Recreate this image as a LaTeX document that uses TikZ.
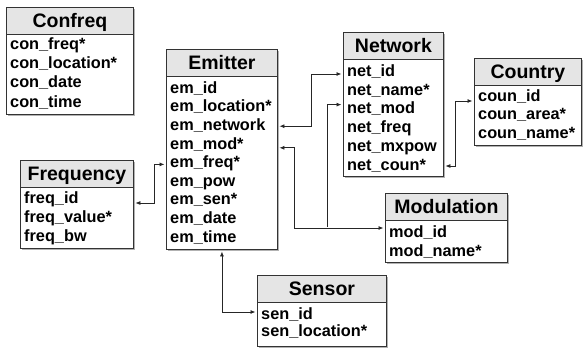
\documentclass[tikz,border=0pt]{standalone}
\usepackage{fontspec}
\setmainfont{Liberation Sans}
\usetikzlibrary{arrows.meta,calc,shadows}
\tikzset{
  tbl/.style={draw=black!80, line width=0.9pt, fill=white, inner sep=0pt,
    drop shadow={shadow xshift=1.2pt, shadow yshift=-1.2pt, fill=black!60, opacity=0.5}},
  hdr/.style={draw=black!80, line width=0.9pt, fill=black!10, inner sep=0pt,
    text height=14pt, text depth=0pt, font=\fontsize{19.5}{20}\selectfont\bfseries},
  rowtxt/.style={anchor=west, inner sep=0pt, text height=11.5pt, text depth=3pt,
    font=\fontsize{16.3}{18}\selectfont\bfseries},
  tip/.tip={Latex[length=5pt,width=4pt]},
  link/.style={draw=black!85, line width=0.8pt, shorten <=1.5pt, shorten >=1.5pt},
  conn/.style={link, tip-tip},
  connto/.style={link, -tip},
}
% #1 name, #2 L, #3 T, #4 R, #5 B, #6 title, #7 first row y, #8 row step, #9 rows
\newcommand\ertable[9]{%
  \node[tbl, anchor=north west, minimum width={(#4-#2)*1pt}, minimum height={(#5-#3)*1pt}] (#1) at (#2,#3) {};
  \node[hdr, anchor=north west, minimum width={(#4-#2)*1pt}, minimum height=27pt] (#1-h) at (#2,#3) {#6};
  \foreach \t [count=\i] in {#9}
    \node[rowtxt] (#1-\i) at ({#2+4},{#7+(\i-1)*#8}) {\t};
}
\begin{document}
\begin{tikzpicture}[x=1pt,y=-1pt]
\useasboundingbox (0,0) rectangle (583,348);
\ertable{confreq}{6}{7}{133}{114}{Confreq}{45}{19.3}{con\_freq*,con\_location*,con\_date,con\_time}
\ertable{emitter}{166}{49}{277}{249}{Emitter}{89}{18.6}{em\_id,em\_location*,em\_network,em\_mod*,em\_freq*,em\_pow,em\_sen*,em\_date,em\_time}
\ertable{frequency}{20}{160}{133}{248}{Frequency}{199}{19}{freq\_id,freq\_value*,freq\_bw}
\ertable{network}{343}{32}{443}{176}{Network}{72}{18.8}{net\_id,net\_name*,net\_mod,net\_freq,net\_mxpow,net\_coun*}
\ertable{country}{474}{58}{581}{145}{Country}{97}{18.5}{coun\_id,coun\_area*,coun\_name*}
\ertable{modulation}{385}{193}{507}{262}{Modulation}{233}{19}{mod\_id,mod\_name*}
\ertable{sensor}{257}{275}{386}{346}{Sensor}{315}{17.5}{sen\_id,sen\_location*}

\draw[conn] (emitter.east |- emitter-3) -- ++(33,0) |- ($(network.west |- network-1)+(0,2)$);
\draw[conn] ($(emitter.east |- emitter-4)+(0,3)$) -- ++(16,0) |- ($(modulation.west |- modulation-1)+(0,-5)$);
\coordinate (jct) at ($(modulation.west |- modulation-1)+(-58,-5)$);
\draw[connto] (jct) |- ($(network.west |- network-3)+(0,-5)$);
\draw[conn] ($(emitter.west |- emitter-5)+(0,1)$) -- ++(-12,0) |- ($(frequency.east |- frequency-1)+(0,4)$);
\draw[conn] (emitter.south) |- ($(sensor.west |- sensor-1)+(0,-3)$);
\draw[conn] (network.east |- network-6) -- ++(11,0) |- ($(country.west |- country-1)+(0,4)$);
\end{tikzpicture}
\end{document}
